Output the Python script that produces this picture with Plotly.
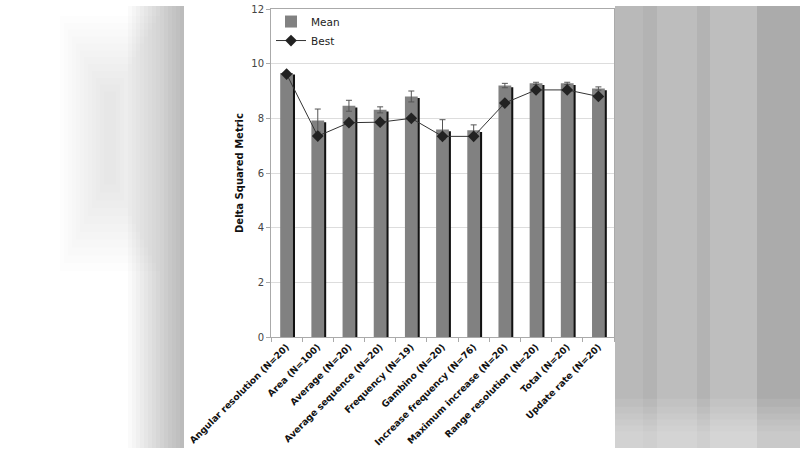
import plotly.graph_objects as go

categories = ["Angular resolution (N=20)", "Area (N=100)", "Average (N=20)",
              "Average sequence (N=20)", "Frequency (N=19)", "Gambino (N=20)",
              "Increase frequency (N=76)", "Maximum increase (N=20)",
              "Range resolution (N=20)", "Total (N=20)", "Update rate (N=20)"]
mean_vals = [9.66, 7.92, 8.46, 8.31, 8.80, 7.59, 7.56, 9.20, 9.28, 9.28, 9.09]
mean_err = [0.02, 0.42, 0.20, 0.11, 0.20, 0.36, 0.20, 0.08, 0.04, 0.04, 0.06]
best_vals = [9.62, 7.35, 7.84, 7.86, 8.00, 7.34, 7.34, 8.56, 9.04, 9.04, 8.80]
y_ticks = [0, 2, 4, 6, 8, 10, 12]

FONT = "DejaVu Sans"

# plot area in pixels
X0, X1, YB, YT = 271, 614, 337, 3
def px(x):
    return (x - X0) / (X1 - X0)
def py(y):
    return (YB - y) / (YB - YT)

shapes = []
def rect(x0, y0, x1, y1, color):
    shapes.append(dict(type="rect", xref="paper", yref="paper",
                       x0=px(x0), x1=px(x1), y0=py(y1), y1=py(y0),
                       fillcolor=color, line=dict(width=0), layer="below"))

# left blurred panel (soft grey blob + darkening toward the edge)
for i in range(12):
    rect(60 + 4 * i, 10 + 7 * i, 160 - 4 * i, 270 - 8 * i, "rgba(0,0,0,0.008)")
for i in range(14):
    rect(128 + 4 * i, 0, 184, 450, "rgba(0,0,0,0.018)")
# right blurred panel
rect(615, 0, 800, 450, "#b9b9b9")
for (a, c, col) in [(643, 657, "#b3b3b3"), (657, 697, "#bdbdbd"), (697, 710, "#b3b3b3"),
                    (710, 757, "#bebebe"), (757, 800, "#ababab")]:
    rect(a, 0, c, 450, col)
for y in [400, 408, 415, 421, 427, 433]:
    rect(615, y, 800, 450, "rgba(255,255,255,0.08)")

shadow_vals = [m - 0.06 for m in mean_vals]

fig = go.Figure()
fig.add_trace(go.Bar(x=categories, y=shadow_vals, width=0.41, offset=-0.14,
                     marker=dict(color="#111111", line=dict(width=0)),
                     showlegend=False, hoverinfo="skip"))
fig.add_trace(go.Bar(x=categories, y=mean_vals, width=0.41, offset=-0.205, name="Mean",
                     marker=dict(color="#818181", line=dict(width=0)),
                     error_y=dict(type="data", array=mean_err, color="#555555",
                                  thickness=1, width=3)))
fig.add_trace(go.Scatter(x=categories, y=best_vals, name="Best", mode="lines+markers",
                         line=dict(color="#333333", width=1),
                         marker=dict(symbol="diamond", size=9, color="#222222")))

fig.update_layout(
    width=800, height=450,
    margin=dict(l=X0, r=800 - X1, t=YT, b=450 - YB),
    paper_bgcolor="white", plot_bgcolor="white",
    barmode="overlay",
    shapes=shapes,
    font=dict(family=FONT, size=10, color="#333333"),
    legend=dict(x=0.0, y=1.006, xanchor="left", yanchor="top",
                bgcolor="rgba(0,0,0,0)", font=dict(size=10.5, color="#222222"),
                tracegroupgap=0, itemwidth=30),
    showlegend=True,
)
fig.update_xaxes(
    type="category", tickangle=-45, ticks="outside", ticklen=4, tickcolor="#aaaaaa",
    tickson="boundaries",
    tickfont=dict(family=FONT, size=9.2, color="#111111", weight="bold"),
    showline=True, linecolor="#aaaaaa", linewidth=1, mirror=True, showgrid=False,
    range=[-0.5, len(categories) - 0.5],
)
fig.update_yaxes(
    range=[0, 12], tickvals=y_ticks, ticks="outside", ticklen=4, tickcolor="#aaaaaa",
    tickfont=dict(family=FONT, size=10, color="#444444"), ticklabeloverflow="allow",
    showline=True, linecolor="#aaaaaa", linewidth=1, mirror=True,
    showgrid=True, gridcolor="#dddddd", gridwidth=1, zeroline=False,
    title=dict(text="<b>Delta Squared Metric</b>", font=dict(family=FONT, size=10, color="#111111"),
               standoff=5),
)

fig.write_html("out.html", config={"displayModeBar": False},
               post_script="document.body.style.margin='0';document.body.style.overflow='hidden';")
